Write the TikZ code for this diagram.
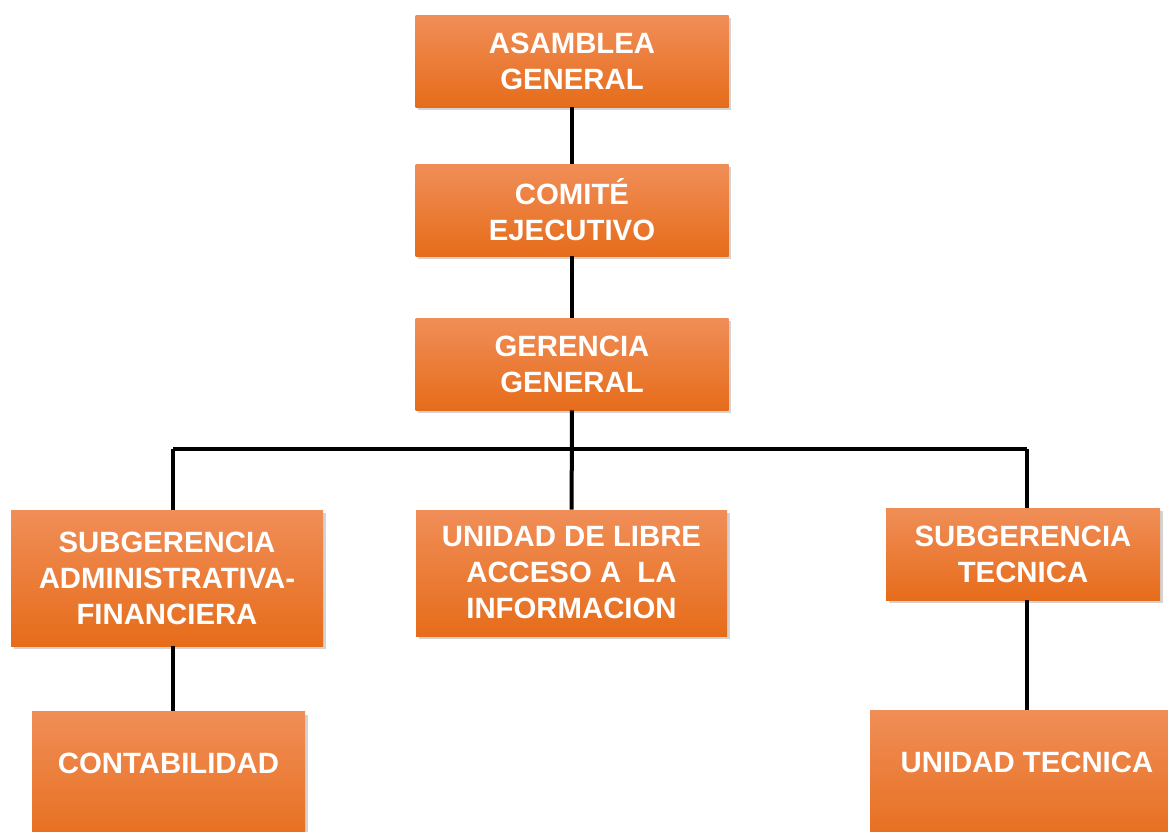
\documentclass[tikz,border=0pt]{standalone}
\usepackage{fontspec}
\setmainfont{Liberation Sans}
\usepackage{tikz}
\usetikzlibrary{shadows}
\definecolor{orTop}{RGB}{240,142,88}
\definecolor{orMid}{RGB}{241,122,38}
\definecolor{orBot}{RGB}{230,108,26}
\tikzstyle{unit}=[rectangle,inner sep=0pt,align=center,text=white,
  font=\fontsize{22}{27}\selectfont\bfseries,
  top color=orTop,middle color=orMid,bottom color=orBot,
  drop shadow={shadow xshift=2pt,shadow yshift=-2.5pt,opacity=0.35}]
\tikzstyle{edge} = [draw,line width=3pt]

\begin{document}
\begin{tikzpicture}[x=0.75pt,y=-0.75pt]
  \clip (0,0) rectangle (1168,832);
  \useasboundingbox (0,0) rectangle (1168,832);

  % top of the chart
  \node[unit,minimum width=234.75pt,minimum height=69pt] (asamblea) at (572,61) {ASAMBLEA\\GENERAL};
  \node[unit,minimum width=234.75pt,minimum height=69pt] (comite) at (572,210) {COMITÉ\\EJECUTIVO};
  \node[unit,minimum width=234.75pt,minimum height=69pt] (gerencia) at (572,364) {GERENCIA\\GENERAL};

  % second level
  \node[unit,minimum width=234pt,minimum height=102pt] (admin) at (167,578) {SUBGERENCIA\\ADMINISTRATIVA-\\FINANCIERA};
  \node[unit,minimum width=233.25pt,minimum height=94.5pt] (libre) at (571.5,573) {UNIDAD DE LIBRE\\ACCESO A\ \ LA\\INFORMACION};
  \node[unit,minimum width=205.5pt,minimum height=69pt] (subtec) at (1023,554) {SUBGERENCIA\\TECNICA};

  % third level
  \node[unit,anchor=north,minimum width=204.75pt,minimum height=105pt] (contab) at (168.5,711) {CONTABILIDAD\\~};
  \node[unit,anchor=north,minimum width=235.5pt,minimum height=105pt] (unitec) at (1027,710) {UNIDAD TECNICA\\~};

  \coordinate (busl) at (173,449);
  \coordinate (busr) at (1027,449);

  \draw[edge] (asamblea) -- (comite);
  \draw[edge] (comite) -- (gerencia);
  \draw[edge] (gerencia) -- (libre);
  \draw[edge] (busl) -- (busr);
  \draw[edge] (busl) -- (busl |- admin.north);
  \draw[edge] (busr) -- (busr |- subtec.north);
  \draw[edge] (busl |- admin.south) -- (busl |- contab.north);
  \draw[edge] (unitec.north) -- (unitec.north |- subtec.south);

\end{tikzpicture}
\end{document}
